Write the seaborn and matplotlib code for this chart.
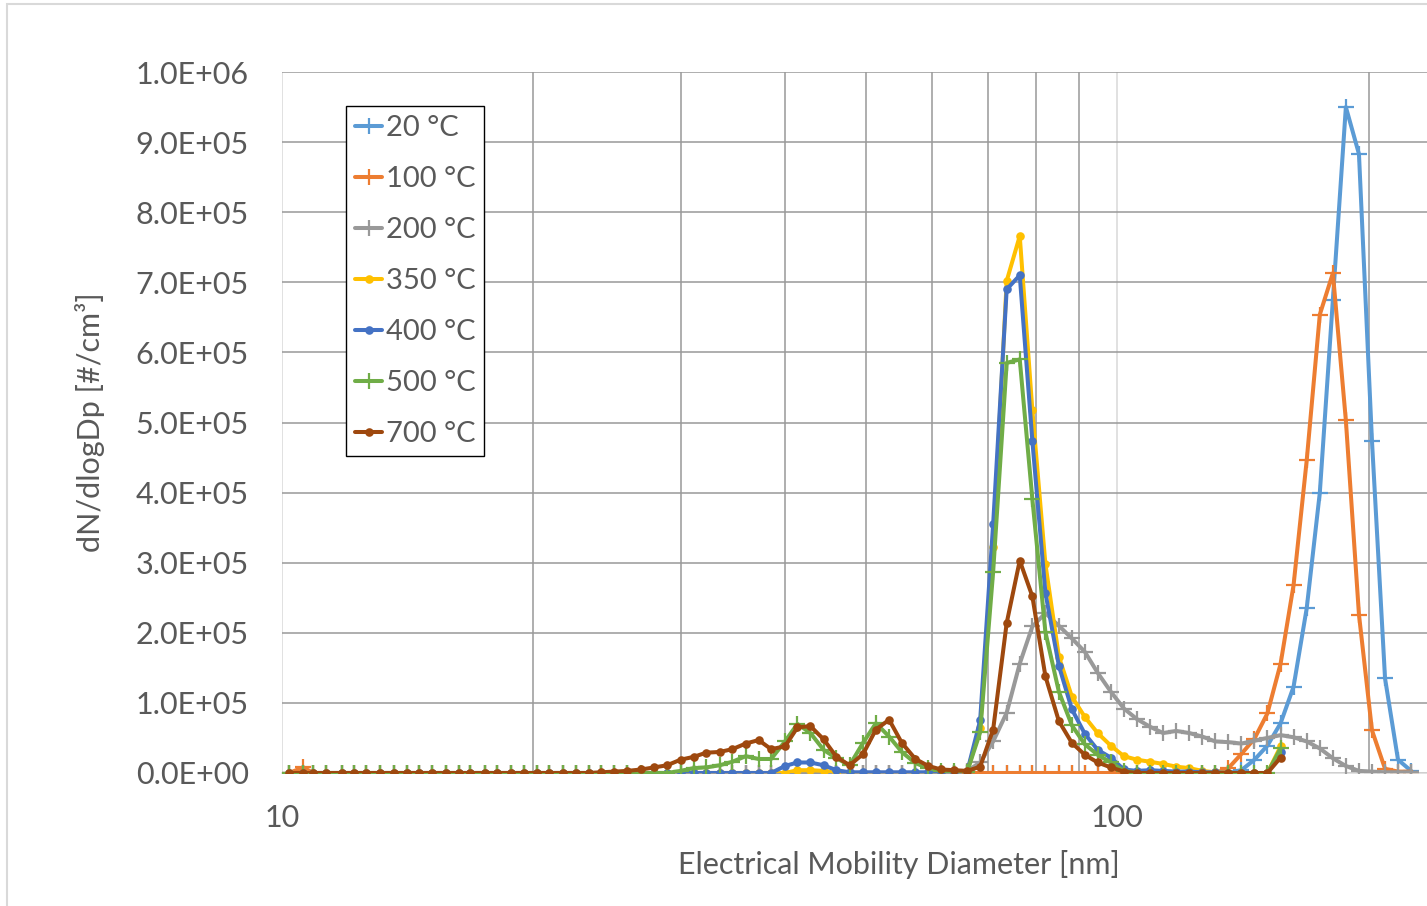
import numpy as np
import pandas as pd
import matplotlib
matplotlib.use("Agg")
import matplotlib.pyplot as plt
import seaborn as sns
from matplotlib.ticker import FixedLocator, FuncFormatter, NullFormatter
from matplotlib.lines import Line2D
from matplotlib.patches import Rectangle

# SMPS channel mid-point diameters [nm], 64 channels per decade
diameter_nm = [10.2, 10.6, 10.9, 11.3, 11.8, 12.2, 12.6, 13.1, 13.6, 14.1,
               14.6, 15.1, 15.7, 16.3, 16.8, 17.5, 18.1, 18.8, 19.5, 20.2,
               20.9, 21.7, 22.5, 23.3, 24.1, 25.0, 25.9, 26.9, 27.9, 28.9,
               30.0, 31.1, 32.2, 33.4, 34.6, 35.9, 37.2, 38.5, 40.0, 41.4,
               42.9, 44.5, 46.1, 47.8, 49.6, 51.4, 53.3, 55.2, 57.3, 59.4,
               61.5, 63.8, 66.1, 68.5, 71.0, 73.7, 76.4, 79.1, 82.0, 85.1,
               88.2, 91.4, 94.7, 98.2, 101.8, 105.5, 109.4, 113.4, 117.6, 121.9,
               126.3, 131.0, 135.8, 140.7, 145.9, 151.2, 156.8, 162.5, 168.5, 174.7,
               181.1, 187.7, 194.6, 201.7, 209.1, 216.7, 224.7]

# dN/dlogDp in thousands of particles per cm3, one list per thermodenuder temperature
n_20C = [0] * 73 + [4, 19, 39, 71, 123, 235, 400, 675, 950, 883, 474, 135, 19, 3]

n_100C = [0, 8] + [0] * 70 + [7, 27, 49, 85, 156, 268, 446, 654, 713, 503,
                              226, 61, 6, 2, 2]

n_200C = [0] * 52 + [3, 15, 45, 86, 156, 209, 228, 210, 192, 173,
                     143, 116, 92, 77, 66, 57, 60, 57, 52, 45,
                     44, 42, 46, 50, 54, 51, 45, 35, 21, 10,
                     3, 2, 1, 1, 1]

n_350C = [0] * 39 + [4, 4, 3] + [0] * 10 + [2, 64, 323, 702, 766, 518, 298, 166,
                                            109, 80, 57, 39, 24, 19, 16, 13, 9, 7,
                                            3, 1, 0, 0, 0, 0, 38]

n_400C = [0] * 38 + [10, 15, 15, 11, 4] + [1] * 9 + [2, 75, 355, 690, 710, 474,
                                                     257, 153, 91, 56, 33, 22, 5, 3,
                                                     4, 3, 2, 2, 1, 1, 0, 0, 0, 0, 30]

n_500C = [0] * 30 + [3, 7, 8, 11, 16, 24, 20, 20, 45, 70,
                     57, 33, 21, 11, 43, 71, 52, 30, 14, 7,
                     3, 3, 2, 58, 287, 585, 590, 391, 201, 116,
                     68, 41, 26, 15, 3] + [0] * 11 + [35]

n_700C = [0] * 24 + [1, 2, 3, 5, 8, 11, 19, 23, 29, 30,
                     34, 42, 47, 34, 38, 65, 67, 48, 23, 11,
                     27, 62, 76, 43, 20, 10, 5, 4, 3, 9,
                     62, 214, 303, 252, 138, 74, 43, 26, 15, 8,
                     2] + [0] * 11 + [22]

series_labels = ["20 °C", "100 °C", "200 °C", "350 °C", "400 °C", "500 °C", "700 °C"]
series_values = [n_20C, n_100C, n_200C, n_350C, n_400C, n_500C, n_700C]
series_colors = ["#5B9BD5", "#ED7D31", "#999999", "#FFC000", "#4472C4", "#70AD47", "#9E480E"]
series_markers = ["+", "+", "+", "o", "o", "+", "o"]

y_ticks = np.arange(0, 1.0e6 + 1, 1.0e5)

sns.set_style("white")
plt.rcParams["font.family"] = ["Lato", "DejaVu Sans"]
text_color = "#595959"
fs = 22
legend_fs = 21

W, H = 1427, 906
fig = plt.figure(figsize=(W / 100, H / 100), dpi=100)
# plot area continues past the right edge of the saved figure
ax = fig.add_axes([282 / W, 1 - 773 / H, 1234 / W, 701 / H])

rows = []
for label, vals in zip(series_labels, series_values):
    for d, v in zip(diameter_nm, vals):
        rows.append((label, d, v * 1e3))
df = pd.DataFrame(rows, columns=["series", "diameter", "dNdlogDp"])

handles = []
for label, color, mk in zip(series_labels, series_colors, series_markers):
    sub = df[df["series"] == label]
    if mk == "+":
        mkw = dict(marker="+", markersize=11, markeredgewidth=1.6,
                   markeredgecolor=color)
    else:
        mkw = dict(marker="o", markersize=6.2, markeredgewidth=0,
                   markeredgecolor=color, markerfacecolor=color)
    sns.lineplot(data=sub, x="diameter", y="dNdlogDp", ax=ax, color=color,
                 linewidth=2.9, estimator=None, sort=False, legend=False,
                 zorder=3, **mkw)
    handles.append(Line2D([], [], color=color, linewidth=2.9, **mkw))

ax.set_xscale("log")
ax.set_xlim(10, 300)
ax.set_ylim(0, 1.0e6)

ax.xaxis.set_major_locator(FixedLocator([10, 100]))
ax.xaxis.set_minor_locator(FixedLocator([20, 30, 40, 50, 60, 70, 80, 90, 200]))
ax.xaxis.set_major_formatter(FuncFormatter(lambda v, p: f"{v:g}"))
ax.xaxis.set_minor_formatter(NullFormatter())
ax.yaxis.set_major_locator(FixedLocator(y_ticks))
ax.yaxis.set_major_formatter(FuncFormatter(lambda v, p: f"{v:.1E}"))

ax.tick_params(axis="both", which="both", length=0, labelsize=fs, labelcolor=text_color)
ax.tick_params(axis="x", pad=22)
ax.tick_params(axis="y", pad=24)

ax.set_axisbelow(True)
ax.grid(False)
ax.yaxis.grid(True, color="#999999", linewidth=1.1)
ax.xaxis.grid(True, which="minor", color="#999999", linewidth=1.1)
ax.xaxis.grid(True, which="major", color="#D9D9D9", linewidth=1.1)

for side in ["top", "right", "left"]:
    ax.spines[side].set_visible(False)
ax.spines["bottom"].set_color("#D9D9D9")
ax.spines["bottom"].set_linewidth(1.1)

ax.set_xlabel("Electrical Mobility Diameter [nm]", fontsize=fs, color=text_color, labelpad=13)
ax.set_ylabel("dN/dlogDp [#/cm³]", fontsize=fs, color=text_color, labelpad=22)

leg = ax.legend(handles, series_labels, loc="upper left",
                bbox_to_anchor=((346 - 282) / 1234, (773 - 106) / 701),
                borderaxespad=0, fontsize=legend_fs, frameon=True, fancybox=False,
                handlelength=0.95, handletextpad=0.12, labelspacing=0.86,
                borderpad=0.3)
leg.get_frame().set_edgecolor("black")
leg.get_frame().set_linewidth(1.0)
leg.get_frame().set_alpha(1)
for t in leg.get_texts():
    t.set_color(text_color)

# chart-area border
fig.patches.append(Rectangle((7 / W, -0.01), 1.05, 1 - 4 / H + 0.01,
                             transform=fig.transFigure, fill=False,
                             edgecolor="#D9D9D9", linewidth=1.5))

fig.savefig("out.png", dpi=100)
